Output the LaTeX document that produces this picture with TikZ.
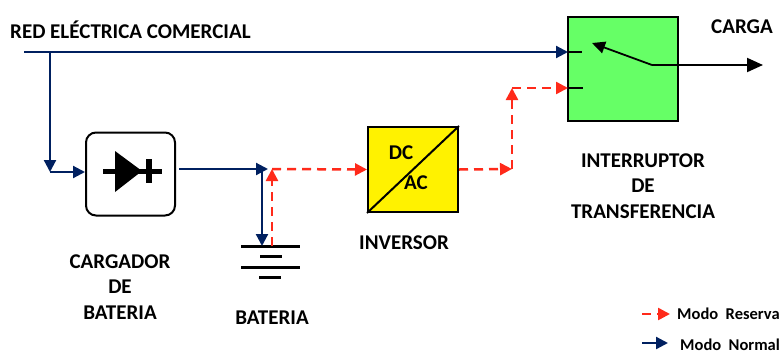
\documentclass[tikz,border=0pt]{standalone}
\usepackage{fontspec}
\setmainfont{Carlito}
\usetikzlibrary{arrows.meta}
\definecolor{navy}{HTML}{002060}
\definecolor{rojo}{HTML}{FF2A1A}
\definecolor{verde}{HTML}{66FF66}
\begin{document}
\begin{tikzpicture}[x=1pt,y=-1pt,
  lbl/.style={font=\bfseries\fontsize{21}{25.5}\selectfont, align=center, inner sep=0pt},
  leg/.style={font=\bfseries\fontsize{16.5}{18}\selectfont, anchor=west, inner sep=0pt},
  normal/.style={navy, line width=2.2pt, -{Triangle[length=12pt,width=12pt]}},
  reserva/.style={rojo, line width=2.5pt, dash pattern=on 9pt off 6pt, -{Triangle[length=12pt,width=12pt]}},
  blk/.style={draw=black, line width=2pt, inner sep=0pt}]
\useasboundingbox (0,0) rectangle (784,354);

% labels
\node[lbl, anchor=west] (grid) at (10,30) {RED ELÉCTRICA COMERCIAL};
\node[lbl] (carga) at (742,27) {CARGA};
\node[lbl] (swlbl) at (643,186) {INTERRUPTOR\\DE\\TRANSFERENCIA};
\node[lbl] (invlbl) at (404,243) {INVERSOR};
\node[lbl] (chlbl) at (120,287) {CARGADOR\\DE\\BATERIA};
\node[lbl] (batlbl) at (272,318) {BATERIA};

% blocks
\node[blk, rounded corners=10pt, minimum width=89pt, minimum height=83pt] (charger) at (130.5,174) {};
\fill (115,151) -- (142,171) -- (115,192) -- cycle;
\draw[line width=5pt] (103,171) -- (162,171);
\draw[line width=6pt] (149,159) -- (149,183);

\node[blk, fill=yellow, minimum width=90pt, minimum height=85pt] (inv) at (413,169.5) {};
\draw[line width=2pt] (inv.south west) -- (inv.north east);
\node[lbl] (dc) at (401,153) {DC};
\node[lbl] (ac) at (416,183) {AC};

\node[blk, fill=verde, minimum width=110pt, minimum height=104pt] (sw) at (623,69) {};

% battery
\draw[line width=3pt] (241,246) -- (300,246);
\draw[line width=3pt] (260,256) -- (282,256);
\draw[line width=3pt] (241,267) -- (300,267);
\draw[line width=3pt] (259,277) -- (281,277);

% coordinates
\coordinate (gl) at (24,52);
\coordinate (sA) at (568,52);
\coordinate (sB) at (568,88);
\coordinate (jb) at (50,52);
\coordinate (jc) at (50,172);
\coordinate (jd) at (268,169);
\coordinate (je) at (262,169);
\coordinate (bt) at (262,246);
\coordinate (br) at (272,246);
\coordinate (bu) at (272,169);
\coordinate (ru) at (512,169);
\coordinate (rt) at (512,88);
\coordinate (pv) at (652,65);
\coordinate (pt) at (592,43);
\coordinate (load) at (763,65);

% normal mode
\draw[normal] (gl) -- (sA);
\draw[normal] (jb) -- (jc);
\draw[normal] (jc) -- (charger.west |- jc);
\draw[normal, shorten <=3pt] (charger.east |- jd) -- (jd);
\draw[normal] (je) -- (bt);

% reserve mode
\draw[reserva] (br) -- (bu);
\draw[reserva] (bu) -- (inv.west);
\draw[reserva] (inv.east) -- (ru);
\draw[reserva] (ru) -- (rt);
\draw[reserva] (rt) -- (sB);

% switch internals
\draw[line width=1.8pt] (sA) -- ++(14,0);
\draw[line width=1.8pt] (sB) -- ++(15,0);
\draw[line width=1.8pt, -{Triangle[length=13pt,width=12pt]}] (pv) -- (pt);
\draw[line width=1.8pt] (pv) -- (sw.east |- pv);
\draw[line width=2pt, -{Triangle[length=16pt,width=14pt]}] (sw.east |- load) -- (load);

% legend
\coordinate (lr0) at (642,314);
\coordinate (lr1) at (670,314);
\coordinate (ln0) at (642,343);
\coordinate (ln1) at (668,343);
\draw[reserva] (lr0) -- (lr1);
\draw[normal] (ln0) -- (ln1);
\node[leg] (lres) at (677,314) {Modo\ \ Reserva};
\node[leg] (lnor) at (680,345) {Modo\ \ Normal};
\end{tikzpicture}
\end{document}
